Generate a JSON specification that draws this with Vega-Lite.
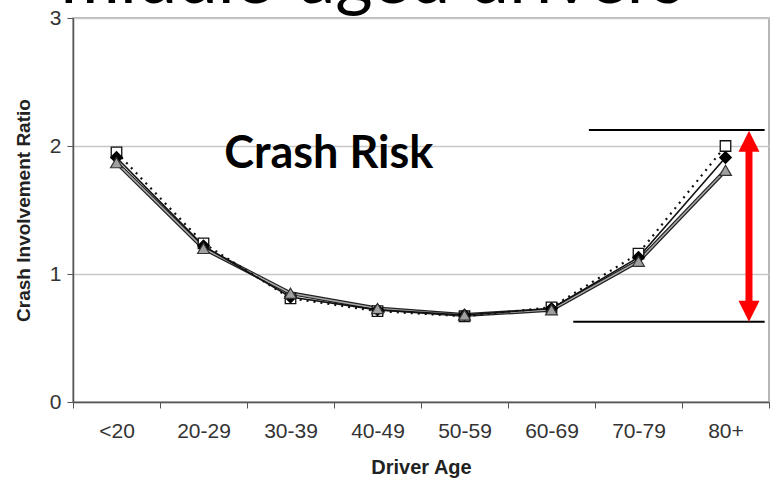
{
  "$schema": "https://vega.github.io/schema/vega-lite/v6.json",
  "width": 696,
  "height": 384,
  "autosize": {"type": "none"},
  "padding": {"left": 73, "top": 18, "right": 6, "bottom": 86},
  "background": "white",
  "config": {
    "view": {"stroke": "#a0a0a0", "strokeWidth": 1.5},
    "axis": {"labelFont": "Liberation Sans", "titleFont": "Liberation Sans"}
  },
  "datasets": {
    "risk": [
      {"age": "<20", "series": "square", "ratio": 1.95},
      {"age": "20-29", "series": "square", "ratio": 1.24},
      {"age": "30-39", "series": "square", "ratio": 0.81},
      {"age": "40-49", "series": "square", "ratio": 0.71},
      {"age": "50-59", "series": "square", "ratio": 0.67},
      {"age": "60-69", "series": "square", "ratio": 0.74},
      {"age": "70-79", "series": "square", "ratio": 1.16},
      {"age": "80+", "series": "square", "ratio": 2.0},
      {"age": "<20", "series": "diamond", "ratio": 1.91},
      {"age": "20-29", "series": "diamond", "ratio": 1.22},
      {"age": "30-39", "series": "diamond", "ratio": 0.82},
      {"age": "40-49", "series": "diamond", "ratio": 0.72},
      {"age": "50-59", "series": "diamond", "ratio": 0.68},
      {"age": "60-69", "series": "diamond", "ratio": 0.73},
      {"age": "70-79", "series": "diamond", "ratio": 1.13},
      {"age": "80+", "series": "diamond", "ratio": 1.91},
      {"age": "<20", "series": "triangle", "ratio": 1.87},
      {"age": "20-29", "series": "triangle", "ratio": 1.2},
      {"age": "30-39", "series": "triangle", "ratio": 0.85},
      {"age": "40-49", "series": "triangle", "ratio": 0.73},
      {"age": "50-59", "series": "triangle", "ratio": 0.68},
      {"age": "60-69", "series": "triangle", "ratio": 0.72},
      {"age": "70-79", "series": "triangle", "ratio": 1.1},
      {"age": "80+", "series": "triangle", "ratio": 1.81}
    ],
    "hlines": [
      {"x1": 5.93, "x2": 7.95, "y": 2.125},
      {"x1": 5.75, "x2": 7.95, "y": 0.627}
    ],
    "arrow": [
      {"x": 7.77, "y1": 2.0375, "y2": 0.709}
    ],
    "heads": [
      {"x": 7.77, "y": 2.0375, "dir": "up"},
      {"x": 7.77, "y": 0.709, "dir": "down"}
    ],
    "labels": [
      {"x": 2.94, "y": 1.828, "text": "Crash Risk", "kind": "note"},
      {"x": 3.44, "y": 3.12, "text": "middle-aged drivers", "kind": "title"}
    ]
  },
  "layer": [
    {
      "layer": [
        {
          "data": {"name": "risk"},
          "transform": [{"filter": "datum.series === 'triangle'"}],
          "mark": {"type": "line", "stroke": "#222222", "strokeWidth": 4},
          "encoding": {
            "x": {"field": "age", "type": "nominal", "sort": null,
              "scale": {"paddingInner": 0, "paddingOuter": 0},
              "axis": {"title": "Driver Age", "titleFontSize": 20, "titleFontWeight": "bold", "titleColor": "#222", "titlePadding": 16,
                "labelFontSize": 21, "labelColor": "#333", "labelAngle": 0, "labelPadding": 12,
                "tickBand": "extent", "tickSize": 6, "tickColor": "#555", "domainColor": "#555", "domainWidth": 1.5, "grid": false}},
            "y": {"field": "ratio", "type": "quantitative",
              "scale": {"domain": [0, 3], "nice": false, "zero": true},
              "axis": {"title": "Crash Involvement Ratio", "titleFontSize": 19, "titleFontWeight": "bold", "titleColor": "#222", "titlePadding": 16,
                "values": [0, 1, 2, 3], "format": "d", "labelFontSize": 21, "labelColor": "#333", "labelPadding": 6,
                "tickSize": 6, "tickColor": "#555", "domainColor": "#555", "domainWidth": 1.5,
                "grid": true, "gridColor": "#c8c8c8", "gridWidth": 1.5}}
          }
        },
        {
          "data": {"name": "risk"},
          "transform": [{"filter": "datum.series === 'triangle'"}],
          "mark": {"type": "line", "stroke": "#a8a8a8", "strokeWidth": 1.5},
          "encoding": {"x": {"field": "age", "type": "nominal", "sort": null}, "y": {"field": "ratio", "type": "quantitative"}}
        },
        {
          "data": {"name": "risk"},
          "transform": [{"filter": "datum.series === 'diamond'"}],
          "mark": {"type": "line", "stroke": "#111111", "strokeWidth": 1.6},
          "encoding": {"x": {"field": "age", "type": "nominal", "sort": null}, "y": {"field": "ratio", "type": "quantitative"}}
        },
        {
          "data": {"name": "risk"},
          "transform": [{"filter": "datum.series === 'square'"}],
          "mark": {"type": "line", "stroke": "#111111", "strokeWidth": 2.2, "strokeDash": [2, 5]},
          "encoding": {"x": {"field": "age", "type": "nominal", "sort": null}, "y": {"field": "ratio", "type": "quantitative"}}
        },
        {
          "data": {"name": "risk"},
          "transform": [{"filter": "datum.series === 'square'"}],
          "mark": {"type": "point", "shape": "square", "size": 110, "filled": true, "fill": "white", "stroke": "#111111", "strokeWidth": 1.3, "opacity": 1},
          "encoding": {"x": {"field": "age", "type": "nominal", "sort": null}, "y": {"field": "ratio", "type": "quantitative"}}
        },
        {
          "data": {"name": "risk"},
          "transform": [{"filter": "datum.series === 'diamond'"}],
          "mark": {"type": "point", "shape": "diamond", "size": 110, "filled": true, "fill": "#000000", "stroke": "#000000", "opacity": 1},
          "encoding": {"x": {"field": "age", "type": "nominal", "sort": null}, "y": {"field": "ratio", "type": "quantitative"}}
        },
        {
          "data": {"name": "risk"},
          "transform": [{"filter": "datum.series === 'triangle'"}],
          "mark": {"type": "point", "shape": "triangle-up", "size": 140, "filled": true, "fill": "#a0a0a0", "stroke": "#333333", "strokeWidth": 1.2, "opacity": 1},
          "encoding": {"x": {"field": "age", "type": "nominal", "sort": null}, "y": {"field": "ratio", "type": "quantitative"}}
        }
      ]
    },
    {
      "layer": [
        {
          "data": {"name": "hlines"},
          "mark": {"type": "rule", "stroke": "#000000", "strokeWidth": 2},
          "encoding": {
            "x": {"field": "x1", "type": "quantitative", "scale": {"domain": [0, 8], "nice": false, "zero": false}, "axis": null},
            "x2": {"field": "x2"},
            "y": {"field": "y", "type": "quantitative", "scale": {"domain": [0, 3], "nice": false}, "axis": null}
          }
        },
        {
          "data": {"name": "arrow"},
          "mark": {"type": "rule", "stroke": "#ff0000", "strokeWidth": 7},
          "encoding": {
            "x": {"field": "x", "type": "quantitative"},
            "y": {"field": "y1", "type": "quantitative"},
            "y2": {"field": "y2"}
          }
        },
        {
          "data": {"name": "heads"},
          "transform": [{"filter": "datum.dir === 'up'"}],
          "mark": {"type": "point", "shape": "M0,-1L1,1L-1,1Z", "size": 441, "filled": true, "fill": "#ff0000", "stroke": null, "opacity": 1},
          "encoding": {
            "x": {"field": "x", "type": "quantitative"},
            "y": {"field": "y", "type": "quantitative"}
          }
        },
        {
          "data": {"name": "heads"},
          "transform": [{"filter": "datum.dir === 'down'"}],
          "mark": {"type": "point", "shape": "M0,1L1,-1L-1,-1Z", "size": 441, "filled": true, "fill": "#ff0000", "stroke": null, "opacity": 1},
          "encoding": {
            "x": {"field": "x", "type": "quantitative"},
            "y": {"field": "y", "type": "quantitative"}
          }
        },
        {
          "data": {"name": "labels"},
          "transform": [{"filter": "datum.kind === 'note'"}],
          "mark": {"type": "text", "font": "Lato", "fontWeight": "bold", "fontSize": 45, "align": "center", "baseline": "alphabetic", "color": "#000000"},
          "encoding": {
            "x": {"field": "x", "type": "quantitative"},
            "y": {"field": "y", "type": "quantitative"},
            "text": {"field": "text"}
          }
        },
        {
          "data": {"name": "labels"},
          "transform": [{"filter": "datum.kind === 'title'"}],
          "mark": {"type": "text", "font": "Lato", "fontSize": 72, "align": "center", "baseline": "alphabetic", "color": "#000000"},
          "encoding": {
            "x": {"field": "x", "type": "quantitative"},
            "y": {"field": "y", "type": "quantitative"},
            "text": {"field": "text"}
          }
        }
      ]
    }
  ],
  "resolve": {"scale": {"x": "independent", "y": "independent"}, "axis": {"x": "independent", "y": "independent"}}
}
